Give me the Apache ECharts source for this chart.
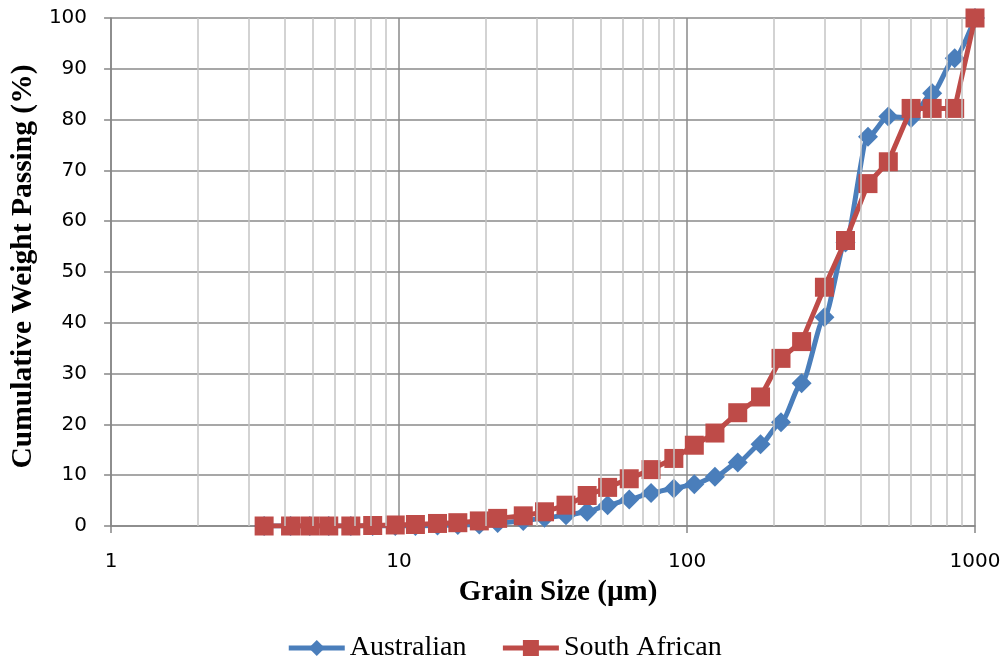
<!DOCTYPE html>
<html><head><meta charset="utf-8">
<script src="https://cdn.jsdelivr.net/npm/echarts@6/dist/echarts.min.js"></script>
<style>html,body{margin:0;padding:0;background:#fff}#c{width:1008px;height:662px}</style>
</head><body><div id="c"></div>
<script>
const grainSizes = [3.4, 4.2, 4.9, 5.7, 6.8, 8.1, 9.7, 11.4, 13.6, 16, 19, 22, 27, 32, 38, 45, 53, 63, 75, 90, 106, 125, 150, 180, 212, 250, 300, 355, 425, 500, 600, 710, 850, 1000];
const australian = [0, 0, 0, 0, 0, 0, 0, 0, 0.1, 0.2, 0.3, 0.6, 1.0, 1.6, 2.1, 2.8, 4.1, 5.2, 6.5, 7.4, 8.2, 9.7, 12.5, 16.1, 20.4, 28.1, 41.1, 55.8, 76.6, 80.6, 80.3, 85.2, 92.1, 100];
const southAfrican = [0, 0, 0, 0, 0, 0.1, 0.2, 0.3, 0.5, 0.65, 1.0, 1.5, 2.0, 2.8, 4.1, 6.0, 7.6, 9.3, 11.1, 13.3, 15.9, 18.3, 22.3, 25.4, 33.0, 36.3, 47.0, 56.2, 67.4, 71.7, 82.2, 82.2, 82.2, 100];
const xTickLabels = ['1', '10', '100', '1000'];
const yTickLabels = ['0','10','20','30','40','50','60','70','80','90','100'];
const seriesNames = ['Australian', 'South African'];

const minorGrid = [];
[1, 10, 100].forEach(d => { for (let k = 2; k <= 9; k++) minorGrid.push(k * d); });

const pairs = (xs, ys) => xs.map((x, i) => [x, ys[i]]);
const chart = echarts.init(document.getElementById('c'), null, {renderer: 'canvas'});
chart.setOption({
  animation: false,
  backgroundColor: '#ffffff',
  grid: {left: 110, right: 33, top: 18, bottom: 136, containLabel: false},
  xAxis: {
    type: 'log', logBase: 10, min: 1, max: 1000,
    name: 'Grain Size (µm)', nameLocation: 'middle', nameGap: 52,
    nameTextStyle: {fontFamily: 'Liberation Serif', fontWeight: 'bold', fontSize: 29, color: '#000', padding: [0, 0, 0, 30]},
    axisLine: {show: true, lineStyle: {color: '#868686', width: 1.5}},
    axisTick: {show: true, inside: false, length: 7, lineStyle: {color: '#868686', width: 1.5}},
    axisLabel: {fontFamily: 'DejaVu Sans', fontSize: 20, color: '#000', margin: 26,
      formatter: v => { const i = Math.round(Math.log10(v)); return xTickLabels[i] !== undefined ? xTickLabels[i] : ''; }},
    splitLine: {show: true, lineStyle: {color: '#8a8a8a', width: 1.5}}
  },
  yAxis: {
    type: 'value', min: 0, max: 100, interval: 10,
    name: 'Cumulative Weight Passing (%)', nameLocation: 'middle', nameGap: 72, nameRotate: 90,
    nameTextStyle: {fontFamily: 'Liberation Serif', fontWeight: 'bold', fontSize: 29.5, color: '#000', padding: [0, 0, 0, 11]},
    axisLine: {show: true, lineStyle: {color: '#868686', width: 1.5}},
    axisTick: {show: true, inside: false, length: 7, lineStyle: {color: '#868686', width: 1.5}},
    axisLabel: {fontFamily: 'DejaVu Sans', fontSize: 20, color: '#000', margin: 24,
      formatter: v => yTickLabels[Math.round(v / 10)]},
    splitLine: {show: true, lineStyle: {color: '#8a8a8a', width: 1.5}}
  },
  legend: {
    data: seriesNames, bottom: -5, left: 'center', itemWidth: 56, itemHeight: 20, itemGap: 34,
    lineStyle: {width: 5},
    textStyle: {fontFamily: 'Liberation Serif', fontSize: 28, color: '#000'}
  },
  series: [
    {
      name: '_minor', type: 'line', data: [], z: 1, silent: true,
      markLine: {silent: true, symbol: 'none', label: {show: false},
        lineStyle: {color: '#c4c4c4', width: 1.5, type: 'solid'},
        data: minorGrid.map(v => ({xAxis: v}))}
    },
    {
      name: seriesNames[0], type: 'line', z: 3,
      data: pairs(grainSizes, australian),
      smooth: 0.25, smoothMonotone: 'x',
      symbol: 'diamond', symbolSize: 20,
      lineStyle: {color: '#4a7ebb', width: 5},
      itemStyle: {color: '#4a7ebb'}
    },
    {
      name: seriesNames[1], type: 'line', z: 4,
      data: pairs(grainSizes, southAfrican),
      symbol: 'rect', symbolSize: 19,
      lineStyle: {color: '#be4b48', width: 5},
      itemStyle: {color: '#be4b48'}
    }
  ]
});
</script>
</body></html>
